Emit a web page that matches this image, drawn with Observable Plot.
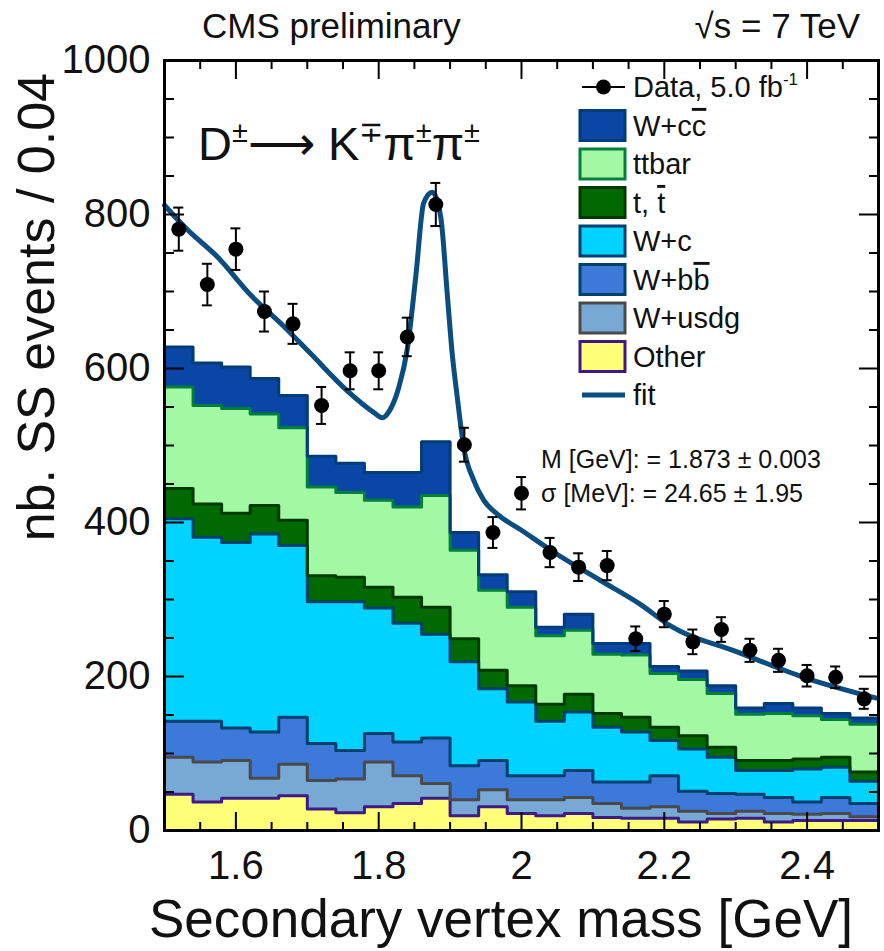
<!DOCTYPE html>
<html><head><meta charset="utf-8">
<script src="https://cdn.jsdelivr.net/npm/d3@7"></script>
<script src="https://cdn.jsdelivr.net/npm/@observablehq/plot@0.6"></script>
<style>
body{margin:0;background:#fff;}
svg{font-family:"Liberation Sans",Arial,Helvetica,sans-serif;}
</style>
</head><body><div id="chart"></div>
<script>
// ---- bins (GeV, width 0.04) ----
const binLow = [1.50,1.54,1.58,1.62,1.66,1.70,1.74,1.78,1.82,1.86,1.90,1.94,1.98,2.02,2.06,2.10,2.14,2.18,2.22,2.26,2.30,2.34,2.38,2.42,2.46];
const binWidth = 0.04;

// ---- stacked MC contributions per bin (events) ----
const other = [47,37,42,42,45,28,23,31,35,42,19,31,22,19,22,17,16,16,11,15,16,11,13,13,13];
const wUsdg = [48,52,49,26,41,37,44,58,36,19,21,22,18,21,21,18,13,15,14,7,9,11,8,9,5];
const wBB   = [47,53,42,60,61,48,37,37,44,59,44,38,31,31,35,28,34,40,26,26,22,21,16,21,17];
const wC    = [263,239,241,257,223,184,193,163,154,135,135,93,96,71,76,71,65,46,55,47,31,35,43,39,29];
const singleT = [39,43,38,37,33,34,32,27,34,35,30,24,21,22,23,18,19,17,17,13,13,13,13,13,12];
const ttbar = [132,128,136,119,120,115,110,113,117,145,115,104,102,89,83,77,81,70,73,70,60,61,56,49,62];
const wCC   = [52,55,54,46,42,40,38,36,45,70,23,20,20,11,21,14,15,9,11,10,8,13,10,8,8];

// ---- data points ----
const dataVals = [781,709,755,674,658,552,597,597,641,813,501,387,438,361,342,344,249,281,245,261,234,221,201,199,171];
const dataErr  = [28,27,27,26,26,24,24,24,25,28,22,20,21,19,18,19,16,17,16,16,15,15,14,14,13];

// ---- fit curve ----
const fitX = [1.500,1.530,1.574,1.621,1.668,1.705,1.756,1.793,1.805,1.815,1.828,1.840,1.852,1.863,1.875,1.887,1.896,1.903,1.910,1.919,1.933,1.947,1.966,2.000,2.041,2.110,2.166,2.208,2.302,2.395,2.497];
const fitY = [812,782,745,695,654,619,571,543,536,545,575,625,720,815,829,796,697,619,563,498,455,429,411,390,364,325,294,266,232,199,172];

// ---- layers: bottom -> top ----
const layerNames = ["Other","W+usdg","W+bb","W+c","t,tbar","ttbar","W+cc"];
const layerValues = [other, wUsdg, wBB, wC, singleT, ttbar, wCC];
const fillColors = ["#ffff78","#78a8d4","#3d79d8","#00d3ff","#006a00","#a3f8a3","#0a46a6"];
const lineColors = ["#3e1a84","#4a4a4a","#00406e","#00406e","#003a00","#00803a","#003d78"];

// ---- ticks ----
const xMajor = [1.6,1.8,2.0,2.2,2.4];
const xMinor = [1.55,1.65,1.7,1.75,1.85,1.9,1.95,2.05,2.1,2.15,2.25,2.3,2.35,2.45];
const yMajor = [0,200,400,600,800,1000];
const yMinor = [50,100,150,250,300,350,450,500,550,650,700,750,850,900,950];

// build tables
const fillOf = Object.fromEntries(layerNames.map((n,i)=>[n,fillColors[i]]));
const lineOf = Object.fromEntries(layerNames.map((n,i)=>[n,lineColors[i]]));
const edges = [...binLow, binLow[binLow.length-1] + binWidth];
const stepRows = [];
layerNames.forEach((name, li) => {
  const vals = layerValues[li];
  edges.forEach((x, i) => stepRows.push({layer: name, x, value: vals[Math.min(i, vals.length-1)]}));
});
const points = binLow.map((lo,i)=>({x: lo + binWidth/2, y: dataVals[i], e: dataErr[i]}));
const fit = fitX.map((x,i)=>({x, y: fitY[i]}));
const cap = 0.007;

const tickStyle = {stroke: "black", strokeWidth: 2, label: null, tickFormat: () => ""};
const chart = Plot.plot({
  width: 884, height: 951,
  marginLeft: 164, marginRight: 6, marginTop: 60, marginBottom: 121,
  x: {domain: [1.5, 2.5]},
  y: {domain: [0, 1000]},
  color: {type: "identity"},
  style: {fontFamily: "'Liberation Sans', Arial, sans-serif", background: "white"},
  marks: [
    Plot.areaY(stepRows, {x: "x", y: "value", z: "layer", fill: d => fillOf[d.layer], order: layerNames, curve: "step-after"}),
    Plot.lineY(stepRows, Plot.stackY2({x: "x", y: "value", z: "layer", order: layerNames, stroke: d => lineOf[d.layer], strokeWidth: 3, curve: "step-after"})),
    Plot.line(fit, {x: "x", y: "y", stroke: "#0a4d80", strokeWidth: 5, curve: "monotone-x"}),
    Plot.ruleX(points, {x: "x", y1: d => d.y - d.e, y2: d => d.y + d.e, stroke: "black", strokeWidth: 2}),
    Plot.ruleY(points, {y: d => d.y + d.e, x1: d => d.x - cap, x2: d => d.x + cap, stroke: "black", strokeWidth: 2}),
    Plot.ruleY(points, {y: d => d.y - d.e, x1: d => d.x - cap, x2: d => d.x + cap, stroke: "black", strokeWidth: 2}),
    Plot.dot(points, {x: "x", y: "y", r: 7.5, fill: "black"}),
    // inward ticks on all sides
    Plot.axisX({...tickStyle, anchor: "bottom", ticks: xMajor, tickSize: 18, dy: -18}),
    Plot.axisX({...tickStyle, anchor: "bottom", ticks: xMinor, tickSize: 8, dy: -8}),
    Plot.axisX({...tickStyle, anchor: "top", ticks: xMajor, tickSize: 18, dy: 18}),
    Plot.axisX({...tickStyle, anchor: "top", ticks: xMinor, tickSize: 8, dy: 8}),
    Plot.axisY({...tickStyle, anchor: "left", ticks: yMajor, tickSize: 20, dx: 20}),
    Plot.axisY({...tickStyle, anchor: "left", ticks: yMinor, tickSize: 10, dx: 10}),
    Plot.axisY({...tickStyle, anchor: "right", ticks: yMajor, tickSize: 20, dx: -20}),
    Plot.axisY({...tickStyle, anchor: "right", ticks: yMinor, tickSize: 10, dx: -10}),
    // labels
    Plot.axisX({anchor: "bottom", ticks: xMajor, tickSize: 0, tickPadding: 20, fontSize: 40, label: null,
      tickFormat: d => String(+d.toFixed(1)), fill: "#111"}),
    Plot.axisY({anchor: "left", ticks: yMajor, tickSize: 0, tickPadding: 14, fontSize: 40, label: null,
      tickFormat: d3.format("d"), fill: "#111"}),
    Plot.frame({stroke: "black", strokeWidth: 3})
  ]
});
document.getElementById("chart").appendChild(chart);

// ---- texts, legend ----
const svg = d3.select(chart);
const g = svg.append("g").attr("fill", "#111").attr("text-anchor", "start");
g.append("text").attr("x", 202).attr("y", 38).attr("font-size", 35).text("CMS preliminary");
g.append("text").attr("x", 860).attr("y", 38).attr("font-size", 35).attr("text-anchor", "end").text("\u221As = 7 TeV");
g.append("text").attr("x", 853).attr("y", 937).attr("font-size", 53).attr("text-anchor", "end").text("Secondary vertex mass [GeV]");
g.append("text").attr("transform", "translate(54,73) rotate(-90)").attr("font-size", 52).attr("text-anchor", "end").text("nb. SS events / 0.04");

// decay label
const dk = g.append("text").attr("x", 198).attr("y", 160).attr("font-size", 47);
const seg = (t, sup) => dk.append("tspan").attr("font-size", sup ? 29 : 47).attr("dy", sup ? -18 : 0).text(t);
seg("D"); seg("\u00B1", true); dk.append("tspan").attr("dy", 18).text("\u27F6 K");
seg("\u2213", true); dk.append("tspan").attr("dy", 18).text("\u03C0");
seg("\u00B1", true); dk.append("tspan").attr("dy", 18).text("\u03C0");
seg("\u00B1", true);

// fit results
g.append("text").attr("x", 541).attr("y", 468).attr("font-size", 25).text("M [GeV]: = 1.873 \u00B1 0.003");
g.append("text").attr("x", 541).attr("y", 502).attr("font-size", 25).text("\u03C3 [MeV]: = 24.65 \u00B1 1.95");

// legend
const lx = 580, bw = 45, bh = 30, tx = 633, y0 = 87, step = 38.5;
const leg = svg.append("g").attr("text-anchor", "start");
leg.append("line").attr("x1", lx + 2).attr("x2", lx + bw).attr("y1", y0).attr("y2", y0).attr("stroke", "black").attr("stroke-width", 2);
leg.append("circle").attr("cx", lx + bw/2 + 1).attr("cy", y0).attr("r", 7.5).attr("fill", "black");
const dt = leg.append("text").attr("x", tx).attr("y", y0).attr("dy", "0.36em").attr("font-size", 29).attr("fill", "#111");
dt.append("tspan").text("Data, 5.0 fb");
dt.append("tspan").attr("font-size", 17).attr("dy", -12).text("-1");
const legendDefs = [
  {idx: 6, parts: [["W+c", false], ["c", true]]},
  {idx: 5, parts: [["ttbar", false]]},
  {idx: 4, parts: [["t, ", false], ["t", true]]},
  {idx: 3, parts: [["W+c", false]]},
  {idx: 2, parts: [["W+b", false], ["b", true]]},
  {idx: 1, parts: [["W+usdg", false]]},
  {idx: 0, parts: [["Other", false]]}
];
legendDefs.forEach((d, k) => {
  const cy = y0 + step * (k + 1);
  leg.append("rect").attr("x", lx).attr("y", cy - bh/2).attr("width", bw).attr("height", bh)
    .attr("fill", fillColors[d.idx]).attr("stroke", lineColors[d.idx]).attr("stroke-width", 3);
  const t = leg.append("text").attr("x", tx).attr("y", cy).attr("dy", "0.36em").attr("font-size", 29).attr("fill", "#111");
  d.parts.forEach(([s, over]) => {
    const ts = t.append("tspan").text(s);
    if (over) ts.style("text-decoration", "overline");
  });
});
const fy = y0 + step * 8;
leg.append("line").attr("x1", lx + 2).attr("x2", lx + bw).attr("y1", fy).attr("y2", fy).attr("stroke", "#0a4d80").attr("stroke-width", 5);
leg.append("text").attr("x", tx).attr("y", fy).attr("dy", "0.36em").attr("font-size", 29).attr("fill", "#111").text("fit");
</script>
</body></html>
